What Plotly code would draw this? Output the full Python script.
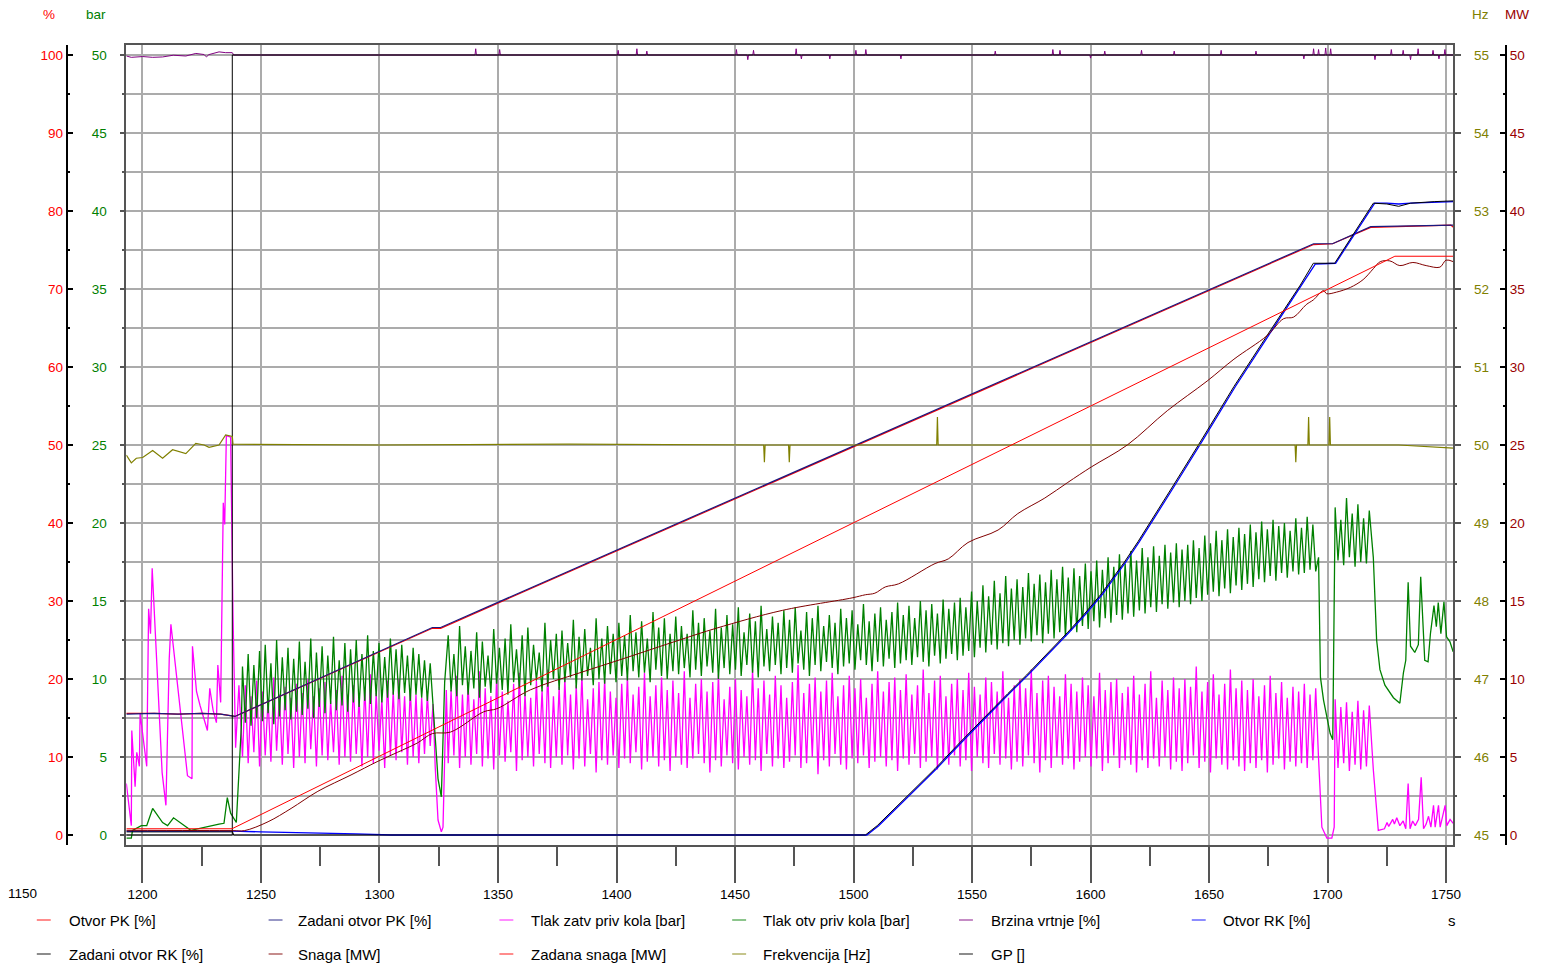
import numpy as np
import plotly.graph_objects as go

FONT = "Liberation Sans, Arial, sans-serif"
W, H = 1542, 966

# ---------------- data (time in s) ----------------
otvor_pk_t = [1193.2, 1205, 1215, 1225, 1233, 1237.0, 1239.0, 1322.3, 1325.8, 1694.1, 1702.1, 1718.2, 1730, 1745, 1752, 1753.1]
otvor_pk_v = [15.6, 15.6, 15.5, 15.6, 15.5, 15.3, 15.2, 26.5, 26.5, 75.7, 75.8, 77.9, 78.0, 78.1, 78.2, 77.9]
zad_pk_t = [1193.2, 1205, 1215, 1225, 1233, 1237.0, 1239.0, 1322.3, 1325.8, 1694.1, 1702.1, 1718.2, 1730, 1745, 1753.1]
zad_pk_v = [15.5, 15.6, 15.5, 15.6, 15.5, 15.3, 15.2, 26.6, 26.6, 75.8, 75.8, 78.0, 78.1, 78.2, 78.2]

# pressures [bar]: irregular segments + oscillating segments sampled every SAMPLE_STEP s
SAMPLE_STEP = 1.2
green_pre_t = [1193.2, 1195.3, 1195.8, 1199.5, 1201.8, 1204.3, 1208.5, 1210.6, 1213.1, 1220.4, 1232.3, 1234.4, 1235.8, 1237.2, 1239.6, 1241.0, 1241.7]
green_pre_v = [-0.2, -0.2, 0.3, 0.6, 0.6, 1.7, 0.8, 0.6, 1.1, 0.3, 0.7, 0.75, 2.4, 1.4, 0.8, 4.8, 6.9]
green_A_start = 1242.2
green_A = [10.8, 7.2, 11.6, 7.0, 10.9, 7.5, 11.8, 7.3, 12.2, 7.8, 11.0, 7.1, 12.5, 7.6, 11.4, 8.0, 12.0, 7.4, 11.3, 7.9,
           12.4, 7.7, 11.1, 8.1, 12.6, 7.5, 11.7, 8.2, 12.1, 7.8, 11.5, 8.4, 12.7, 8.0, 11.2, 8.3, 12.3, 7.9, 11.9, 8.5,
           12.5, 8.2, 11.6, 8.6, 12.8, 8.4, 11.8, 8.9, 12.3, 8.5, 11.4, 8.8, 12.6, 9.0, 11.9, 8.7, 12.2, 9.1, 11.5, 8.6,
           12.0, 9.0, 11.6, 8.8, 11.2]
green_dip_t = [1320.2, 1321.4, 1322.6, 1323.5, 1324.7, 1326.1, 1326.8, 1327.5]
green_dip_v = [8.6, 11.0, 8.2, 6.0, 3.6, 2.45, 5.5, 9.8]
green_B_start = 1329.0
green_B = [12.8, 9.2, 11.6, 8.9, 13.4, 9.6, 12.1, 9.0, 11.8, 9.4, 13.0, 8.8, 12.4, 9.5, 11.5, 9.1, 13.2, 9.7, 12.0, 9.3,
           12.6, 9.0, 13.5, 9.8, 11.9, 9.4, 12.8, 8.9, 13.3, 9.6, 12.2, 9.9, 11.7, 9.2, 13.6, 9.5, 12.5, 10.0, 12.9, 9.3,
           13.1, 9.8, 12.3, 10.1, 13.8, 9.4, 12.7, 9.9, 13.2, 10.2, 12.0, 9.6, 13.9, 10.0, 12.6, 9.7, 13.4, 10.3, 12.9, 9.8,
           13.6, 10.2, 12.8, 9.9, 14.1, 10.5, 13.0, 10.1, 13.7, 10.4, 12.6, 9.8, 14.3, 10.6, 13.3, 10.2, 13.9, 10.0, 12.9, 10.5,
           14.0, 10.3, 13.4, 10.7, 12.9, 10.1, 14.4, 10.6, 13.6, 10.2, 13.9, 10.8, 13.1, 10.4, 14.5, 10.0, 13.3, 10.7, 14.1, 10.3,
           13.5, 10.6, 14.6, 10.2, 13.0, 10.9, 14.2, 10.4, 13.7, 10.1, 14.7, 10.8, 13.2, 10.5, 14.0, 10.9, 13.6, 10.3, 14.4, 10.7,
           13.8, 10.4, 14.6, 11.0, 13.1, 10.6, 14.3, 10.2, 13.9, 10.9, 14.7, 10.5, 13.4, 11.1, 14.1, 10.7, 13.6, 10.3, 14.5, 10.8,
           13.9, 11.0, 14.4, 10.6, 13.5, 11.2, 14.8, 10.9, 13.7, 10.5, 14.2, 11.1, 14.6, 10.8, 13.8, 11.3, 14.3, 10.7, 14.9, 11.0,
           14.1, 11.2, 14.7, 10.9, 13.9, 11.4, 15.0, 11.1, 14.4, 10.8, 14.8, 11.5, 14.2, 11.0, 15.1, 11.3, 14.5, 11.6, 14.9, 11.2,
           15.2, 11.5, 14.6, 11.8, 15.6, 11.4, 15.0, 12.0, 16.0, 11.7, 15.3, 12.2, 16.3, 11.9, 15.5, 12.3, 16.6, 12.1, 15.8, 12.5,
           16.4, 12.2, 15.9, 12.6, 16.8, 12.4, 16.1, 12.8, 16.7, 12.3, 16.2, 12.9, 17.0, 12.6, 16.4, 13.0, 17.2, 12.7, 16.5, 13.1,
           17.1, 13.0, 16.6, 13.4, 17.4, 13.2, 16.9, 13.7, 17.6, 13.3, 17.0, 13.9, 17.8, 13.6, 17.2, 14.1, 18.0, 13.8, 17.4, 14.2,
           18.2, 14.0, 17.6, 14.4, 18.4, 14.2, 17.8, 14.6, 18.5, 14.3, 17.9, 14.8, 18.6, 14.5, 18.1, 14.9, 18.7, 14.6, 18.3, 15.0,
           18.6, 14.8, 18.9, 15.2, 18.4, 15.0, 19.2, 15.4, 18.7, 15.6, 19.5, 15.3, 18.9, 15.8, 19.6, 15.5, 19.1, 16.0, 19.7, 15.7,
           19.3, 16.1, 19.9, 15.9, 19.4, 16.4, 20.1, 16.2, 19.6, 16.6, 20.2, 16.3, 19.8, 16.8, 20.0, 16.5, 19.5, 16.9, 20.3, 16.7,
           19.7, 16.8, 20.4, 17.0, 19.9, 16.9, 17.8]
green_mid_t = [1697.0, 1698.3, 1701.1, 1702.2]
green_mid_v = [10.1, 8.65, 6.5, 6.1]
green_C_start = 1703.2
green_C = [21.0, 17.6, 20.2, 17.3, 21.6, 17.8, 20.6, 17.2, 21.2, 17.5, 20.3, 17.4, 20.8]
green_post_t = [1719.3, 1720.7, 1722.1, 1724.2, 1727.8, 1730.5, 1732.0, 1733.0, 1734.0, 1735.0, 1736.8, 1738.3,
                1739.3, 1741.0, 1742.4, 1743.4, 1744.9, 1745.9, 1746.7, 1747.8, 1749.1, 1750.2, 1751.6, 1753.0]
green_post_v = [17.8, 12.5, 10.6, 9.6, 8.8, 8.45, 10.4, 11.2, 16.2, 12.1, 11.7, 12.2,
                16.55, 11.2, 11.1, 12.9, 14.7, 13.35, 14.9, 12.9, 14.95, 12.7, 12.4, 11.75]

mag_pre_t = [1193.2, 1195.3, 1195.5, 1196.9, 1197.6, 1198.7, 1199.0, 1201.8, 1202.6, 1203.4, 1204.1, 1208.3, 1209.9,
             1210.6, 1211.3, 1212.0, 1219.0, 1220.9, 1221.1, 1222.8, 1224.3, 1227.4, 1228.4, 1229.8, 1231.2, 1231.8,
             1233.0, 1234.1, 1234.7, 1235.4, 1237.2, 1238.2, 1239.3, 1240.7]
mag_pre_v = [3.3, 0.6, 6.7, 3.1, 5.3, 4.4, 7.8, 4.4, 14.5, 12.9, 17.1, 4.0, 1.9,
             6.0, 11.3, 13.5, 3.8, 3.6, 12.1, 9.2, 8.3, 6.7, 9.4, 8.0, 7.2, 10.9,
             8.5, 21.3, 19.9, 25.6, 25.5, 14.1, 5.6, 9.6]
mag_A = [5.0, 9.6, 4.6, 8.9, 5.3, 9.9, 4.4, 9.2, 5.1, 8.7, 4.7, 10.1, 5.4, 9.0, 4.5, 9.5, 5.2, 8.8, 4.3, 9.7,
         5.0, 9.1, 4.6, 10.0, 5.5, 8.9, 4.4, 9.4, 5.1, 9.8, 4.8, 8.6, 5.3, 9.3, 4.5, 10.2, 5.0, 9.0, 4.7, 9.6,
         5.2, 8.8, 4.4, 9.5, 5.0, 10.3, 4.6, 9.1, 5.4, 8.7, 4.3, 9.9, 5.1, 9.2, 4.8, 10.0, 5.3, 8.9, 4.5, 9.4,
         5.0, 9.0, 4.6, 8.8, 5.2]
mag_dip_t = [1320.2, 1321.4, 1322.6, 1323.5, 1324.7, 1326.1, 1326.8, 1327.5, 1328.2]
mag_dip_v = [9.0, 5.7, 8.4, 4.4, 0.96, 0.2, 0.5, 5.7, 9.3]
mag_B = [4.6, 9.3, 5.1, 10.2, 4.3, 9.0, 5.0, 9.8, 4.5, 8.7, 5.2, 10.5, 4.4, 9.4, 4.9, 8.9, 4.2, 10.0, 5.1, 9.2,
         4.7, 8.6, 5.3, 9.7, 4.1, 10.4, 4.8, 9.1, 5.0, 8.8, 4.4, 9.9, 5.2, 9.3, 4.6, 10.6, 4.3, 8.9, 5.0, 9.5,
         4.5, 10.1, 5.1, 9.0, 4.2, 9.6, 4.9, 10.3, 4.4, 8.7, 5.2, 9.4, 4.0, 9.8, 4.8, 10.0, 4.5, 9.2, 5.1, 8.8,
         4.3, 9.7, 4.9, 10.2, 4.6, 9.0, 5.3, 9.5, 4.2, 10.4, 4.7, 8.9, 5.0, 9.6, 4.4, 10.1, 4.8, 9.3, 4.1, 9.9,
         5.0, 9.1, 4.5, 10.5, 4.3, 8.8, 4.9, 9.7, 5.2, 10.0, 4.6, 9.2, 4.0, 9.8, 4.8, 10.3, 4.4, 8.7, 5.1, 9.5,
         4.6, 10.0, 4.2, 9.3, 5.0, 8.9, 4.5, 10.6, 4.8, 9.4, 4.1, 9.9, 5.2, 9.0, 4.4, 10.2, 4.9, 9.6, 4.3, 8.8,
         4.7, 9.8, 5.1, 10.9, 4.3, 9.1, 4.6, 9.7, 5.0, 10.1, 3.9, 9.2, 4.8, 9.9, 4.4, 10.4, 5.2, 8.9, 4.5, 9.6,
         4.2, 10.2, 4.9, 9.4, 4.6, 10.0, 5.1, 8.8, 4.3, 9.7, 4.7, 10.5, 5.0, 9.2, 4.4, 9.8, 4.8, 10.1, 4.1, 9.3,
         4.9, 10.3, 4.5, 9.0, 5.2, 9.6, 4.3, 10.6, 4.7, 9.1, 5.0, 9.9, 4.2, 10.2, 4.8, 8.9, 4.5, 9.7, 5.1, 10.0,
         4.4, 9.3, 4.8, 10.4, 4.1, 9.5, 5.0, 9.0, 4.6, 10.1, 4.3, 9.8, 5.2, 9.2, 4.5, 10.5, 4.9, 8.8, 4.2, 9.6,
         4.7, 10.0, 4.4, 9.4, 5.1, 10.6, 4.6, 9.1, 4.0, 9.9, 4.8, 10.2, 4.3, 9.5, 5.0, 8.9, 4.5, 10.3, 4.9, 9.7,
         4.2, 9.2, 4.7, 10.1, 5.0, 9.6, 4.4, 8.9, 4.9, 10.4, 4.1, 9.3, 4.6, 9.8, 5.1, 10.0, 4.3, 9.1, 4.8, 9.5,
         4.5, 10.2, 4.0, 9.0, 4.8, 9.7, 4.3, 10.5, 4.9, 8.8, 4.4, 9.9, 5.0, 9.3, 4.2, 10.1, 4.7, 9.4, 4.1, 10.0,
         4.6, 9.5, 5.1, 10.8, 4.3, 9.2, 4.7, 9.8, 4.0, 10.3, 4.9, 9.0, 4.5, 9.7, 4.2, 10.6, 4.8, 9.4, 4.4, 9.9,
         4.1, 9.3, 4.6, 10.0, 4.3, 8.9, 4.8, 9.6, 4.0, 10.2, 4.5, 9.1, 4.9, 9.8, 4.2, 8.8, 4.7, 9.5, 4.4, 9.2,
         4.6, 9.7, 4.3, 9.0, 4.8, 9.4, 4.9]
mag_mid_t = [1696.9, 1697.6, 1699.7, 1701.8, 1702.8]
mag_mid_v = [2.7, 0.5, -0.2, -0.2, 0.5]
mag_C = [8.7, 4.3, 8.2, 4.6, 8.5, 4.1, 7.9, 4.5, 8.6, 4.2, 8.0, 4.4, 8.3]
mag_post_t = [1719.3, 1720.7, 1721.4, 1724.0, 1725.1, 1725.8, 1727.5, 1728.2, 1729.2, 1730.5,
              1731.9, 1733.0, 1734.0, 1734.8, 1735.9, 1737.0, 1738.4, 1739.5, 1740.5, 1741.6,
              1742.6, 1743.6, 1744.7, 1745.4, 1746.8, 1747.5, 1749.6, 1750.3, 1751.7, 1753.0]
mag_post_v = [4.2, 1.4, 0.3, 0.4, 0.8, 0.55, 1.0, 0.7, 1.1, 0.6,
              0.9, 0.4, 3.3, 0.4, 0.9, 0.6, 1.0, 3.7, 0.4, 0.7,
              1.2, 0.5, 1.9, 0.5, 1.9, 0.5, 1.9, 0.6, 1.0, 0.75]

brz_base_t = [1193.2, 1195.3, 1200.1, 1204.3, 1208.5, 1213.0, 1218.3, 1222.5, 1226.0, 1227.0, 1228.0, 1232.3, 1235.1, 1237.9, 1238.5, 1753.1]
brz_base_v = [99.87, 99.7, 99.8, 99.7, 99.75, 99.97, 99.87, 100.2, 100.06, 99.75, 100.05, 100.4, 100.3, 100.3, 100.0, 100.0]
brz_spike_t = [1340.6, 1350.7, 1400.7, 1408.6, 1412.8, 1450.6, 1457.8, 1475.8, 1501.0, 1505.2, 1559.8, 1584.1, 1587.1,
               1606.0, 1621.5, 1635.3, 1655.1, 1669.8, 1694.1, 1696.2, 1699.2, 1701.3, 1726.9, 1731.9, 1738.2, 1744.5, 1749.5,
               1455.4, 1478.0, 1490.0, 1520.0, 1600.0, 1690.0, 1720.0, 1735.0, 1747.0]
brz_spike_v = [100.8, 100.7, 100.6, 100.8, 100.5, 100.7, 100.6, 100.8, 100.6, 100.7, 100.5, 100.7, 100.6,
               100.5, 100.6, 100.5, 100.6, 100.5, 100.8, 100.7, 100.9, 100.8, 100.7, 100.6, 100.8, 100.6, 100.7,
               99.4, 99.5, 99.5, 99.5, 99.6, 99.5, 99.4, 99.4, 99.5]

zad_rk_t = [1193.2, 1238.0, 1238.5, 1505.0, 1510.0, 1520.0, 1534.4, 1545.0, 1555.5, 1565.0, 1573.0, 1582.0, 1590.4,
            1597.0, 1604.5, 1609.0, 1614.3, 1620.0, 1625.5, 1635.3, 1646.5, 1660.5, 1674.4, 1688.5, 1694.0,
            1703.0, 1719.3, 1725.0, 1730.0, 1735.0, 1745.0, 1753.1]
zad_rk_v = [0.4, 0.4, 0.0, 0.0, 1.2, 4.2, 8.5, 11.9, 15.2, 18.1, 20.5, 23.3, 26.0,
            28.2, 30.9, 32.8, 35.0, 37.6, 40.2, 45.0, 50.5, 57.5, 64.0, 70.5, 73.3,
            73.3, 81.0, 80.9, 80.6, 81.0, 81.2, 81.3]
otvor_rk_t = [1193.2, 1238.0, 1250.0, 1270.0, 1290.0, 1305.0, 1505.6, 1510.6, 1520.6, 1535.0, 1545.6, 1556.1, 1565.6,
              1573.6, 1582.6, 1591.0, 1597.6, 1605.1, 1609.6, 1614.9, 1620.6, 1626.1, 1635.9, 1647.1, 1661.1,
              1675.0, 1689.1, 1694.8, 1703.4, 1719.9, 1725.0, 1730.0, 1735.0, 1745.0, 1753.1]
otvor_rk_v = [0.5, 0.5, 0.4, 0.3, 0.15, 0.0, 0.0, 1.2, 4.2, 8.5, 11.9, 15.2, 18.1,
              20.5, 23.3, 26.0, 28.2, 30.9, 32.8, 35.0, 37.6, 40.2, 45.0, 50.5, 57.5,
              64.0, 70.5, 73.2, 73.3, 81.0, 81.0, 80.9, 81.0, 81.1, 81.2]

snaga_t = [1193.2, 1238.0, 1243.0, 1253.0, 1262.7, 1274.0, 1288.0, 1299.0, 1307.6, 1316.0,
           1322.3, 1330.0, 1344.0, 1349.6, 1363.6, 1384.6, 1402.8, 1426.6, 1442.0, 1470.0,
           1499.4, 1505.0, 1509.0, 1513.4, 1519.0, 1534.4, 1540.0, 1548.3, 1561.0, 1569.3,
           1580.7, 1590.4, 1600.4, 1615.5, 1632.4, 1649.2, 1660.5, 1674.4, 1681.5, 1685.7,
           1691.0, 1694.0, 1698.3, 1699.6, 1703.8, 1709.6, 1715.0, 1719.3, 1722.2, 1726.3,
           1730.5, 1736.0, 1741.6, 1747.4, 1750.0, 1753.1]
snaga_v = [0.3, 0.28, 0.28, 0.85, 1.7, 2.8, 3.85, 4.7, 5.3, 5.9,
           6.5, 6.6, 7.9, 8.1, 9.3, 10.4, 11.3, 12.5, 13.25, 14.4,
           15.2, 15.4, 15.5, 15.9, 16.1, 17.4, 17.7, 18.75, 19.55, 20.6,
           21.6, 22.6, 23.6, 25.0, 27.2, 29.1, 30.5, 32.0, 33.1, 33.2,
           34.0, 34.3, 34.9, 34.7, 34.8, 35.1, 35.6, 36.3, 36.75, 36.8,
           36.5, 36.7, 36.5, 36.4, 36.85, 36.75]
zad_snaga_t = [1193.2, 1237.8, 1728.4, 1753.1]
zad_snaga_v = [0.4, 0.4, 37.1, 37.1]

freq_t = [1193.2, 1195.3, 1197.4, 1200.1, 1204.3, 1208.5, 1212.7, 1218.3, 1222.5, 1226.0,
          1228.1, 1232.3, 1235.1, 1237.9, 1238.2, 1300, 1380, 1462.1, 1462.4, 1462.7,
          1472.6, 1472.9, 1473.2, 1535.1, 1535.4, 1535.7, 1600, 1686.3, 1686.6, 1686.9,
          1691.7, 1692.0, 1692.3, 1700.6, 1700.9, 1701.2, 1730, 1753.1]
freq_v = [49.87, 49.77, 49.83, 49.84, 49.93, 49.83, 49.94, 49.89, 50.02, 50.0,
          49.97, 50.0, 50.13, 50.11, 50.01, 50.0, 50.01, 50.0, 49.78, 50.0,
          50.0, 49.78, 50.0, 50.0, 50.36, 50.0, 50.0, 50.0, 49.78, 50.0,
          50.0, 50.36, 50.0, 50.0, 50.36, 50.0, 50.0, 49.96]

gp_t = [1193.2, 1237.9, 1237.9, 1753.1]
gp_v = [0, 0, 100, 100]

x_ticks_extra = "1150"

# ---------------- assemble series ----------------
def grid(start, vals):
    return list(start + SAMPLE_STEP * np.arange(len(vals)))

green_t = green_pre_t + grid(green_A_start, green_A) + green_dip_t + grid(green_B_start, green_B) + green_mid_t + grid(green_C_start, green_C) + green_post_t
green_v = green_pre_v + green_A + green_dip_v + green_B + green_mid_v + green_C + green_post_v
mag_t = mag_pre_t + grid(green_A_start, mag_A) + mag_dip_t + grid(green_B_start, mag_B) + mag_mid_t + grid(green_C_start, mag_C) + mag_post_t
mag_v = mag_pre_v + mag_A + mag_dip_v + mag_B + mag_mid_v + mag_C + mag_post_v

brz_pts = list(zip(brz_base_t, brz_base_v))
for ts, vs in zip(brz_spike_t, brz_spike_v):
    brz_pts += [(ts - 0.3, 100.0), (ts, vs), (ts + 0.3, 100.0)]
brz_pts.sort()
brz_t = [p[0] for p in brz_pts]
brz_v = [p[1] for p in brz_pts]

fig = go.Figure()

def add(t, v, color, yax, width=1.0, shape="linear"):
    fig.add_trace(go.Scatter(x=t, y=v, mode="lines", yaxis=yax, hoverinfo="skip",
                             line=dict(color=color, width=width, shape=shape), showlegend=False))

# bar axis (base)
add(mag_t, mag_v, "#FF00FF", "y", 1.3)
add(green_t, green_v, "#008000", "y", 1.3)
# % axis
add(otvor_pk_t, otvor_pk_v, "#FF0000", "y2", 1.2)
add(zad_pk_t, zad_pk_v, "#1a1a80", "y2", 1.2)
add(brz_t, brz_v, "#800080", "y2", 1.0)
add(otvor_rk_t, otvor_rk_v, "#0000FF", "y2", 1.3)
add(zad_rk_t, zad_rk_v, "#000000", "y2", 1.0)
add(gp_t, gp_v, "#000000", "y2", 1.0)
# Hz axis
add(freq_t, freq_v, "#808000", "y3", 1.2)
# MW axis
add(snaga_t, snaga_v, "#800000", "y4", 1.0, "spline")
add(zad_snaga_t, zad_snaga_v, "#FF0000", "y4", 1.0)

GRID = "#ababab"
AX = "#555555"
fig.update_layout(
    width=W, height=H,
    margin=dict(l=0, r=0, t=45, b=121),
    paper_bgcolor="white", plot_bgcolor="white",
    showlegend=False,
    font=dict(family=FONT, size=13, color="black"),
    xaxis=dict(domain=[127 / W, 1461 / W], range=[1193.2, 1753.1],
               tickmode="linear", tick0=1200, dtick=50,
               ticks="outside", ticklen=36, tickwidth=1.5, tickcolor=AX,
               showgrid=True, gridcolor=GRID, gridwidth=1.5,
               showline=True, linecolor=AX, linewidth=1.5, mirror=True, zeroline=False,
               tickfont=dict(size=13.5, color="black"),
               minor=dict(dtick=25, tick0=1200, ticks="outside", ticklen=19, tickwidth=1.5,
                          tickcolor=AX, showgrid=False)),
    yaxis=dict(range=[-0.641, 50.641], tickmode="linear", tick0=0, dtick=5,
               ticks="outside", ticklen=5, tickcolor=AX, tickwidth=1.5,
               showgrid=True, gridcolor=GRID, gridwidth=1.5,
               showline=True, linecolor=AX, linewidth=1.5, mirror=True, zeroline=False,
               tickfont=dict(color="#008000", size=13.5), ticklabelstandoff=10,
               minor=dict(dtick=2.5, tick0=0, ticks="outside", ticklen=3, tickcolor=AX,
                          showgrid=True, gridcolor=GRID, gridwidth=1.5)),
    yaxis2=dict(overlaying="y", anchor="free", position=67 / W, side="left",
                range=[-1.282, 101.282], tickmode="linear", tick0=0, dtick=10,
                ticks="inside", ticklen=5, tickcolor="black", tickwidth=1.5,
                showgrid=False, zeroline=False, showline=True, linecolor="black", linewidth=2,
                tickfont=dict(color="#FF0000", size=13.5),
                minor=dict(dtick=5, tick0=0, ticks="inside", ticklen=2, tickcolor="black")),
    yaxis3=dict(overlaying="y", anchor="x", side="right",
                range=[44.872, 55.128], tickmode="linear", tick0=45, dtick=1,
                ticks="outside", ticklen=7, tickcolor=AX, tickwidth=1.5,
                showgrid=False, zeroline=False, showline=False,
                tickfont=dict(color="#808000", size=13.5), ticklabelstandoff=10,
                minor=dict(dtick=0.5, tick0=45, ticks="outside", ticklen=3, tickcolor=AX)),
    yaxis4=dict(overlaying="y", anchor="free", position=1514 / W, side="right",
                range=[-0.641, 50.641], tickmode="linear", tick0=0, dtick=5,
                ticks="inside", ticklen=5, tickcolor="black", tickwidth=1.5,
                showgrid=False, zeroline=False, showline=True, linecolor="black", linewidth=2,
                tickfont=dict(color="#990000", size=13.5),
                minor=dict(dtick=2.5, tick0=0, ticks="inside", ticklen=2, tickcolor="black")),
)

def py(px):  # paper y from pixel row
    return (845 - px) / 800.0

annotations = []
for txt, xpx, col in [("%", 49.5, "#FF0000"), ("bar", 96.5, "#008000"),
                      ("Hz", 1488, "#808000"), ("MW", 1524.5, "#990000")]:
    annotations.append(dict(text=txt, x=xpx / W, y=py(15), xref="paper", yref="paper",
                            xanchor="center", yanchor="middle", showarrow=False,
                            font=dict(family=FONT, size=13.5, color=col)))
annotations.append(dict(text=x_ticks_extra, x=39 / W, y=py(893), xref="paper", yref="paper",
                        xanchor="right", yanchor="middle", showarrow=False,
                        font=dict(family=FONT, size=13.5, color="black")))
annotations.append(dict(text="s", x=1460 / W, y=py(920), xref="paper", yref="paper",
                        xanchor="center", yanchor="middle", showarrow=False,
                        font=dict(family=FONT, size=15, color="black")))

legend_items = [
    ("Otvor PK [%]", "#FF0000", 37, 67, 920),
    ("Zadani otvor PK [%]", "#1a1a80", 270, 298, 920),
    ("Tlak zatv priv kola [bar]", "#FF00FF", 502, 532, 920),
    ("Tlak otv priv kola [bar]", "#008000", 736, 765, 920),
    ("Brzina vrtnje [%]", "#800080", 964, 994, 920),
    ("Otvor RK [%]", "#0000FF", 1198, 1227, 920),
    ("Zadani otvor RK [%]", "#000000", 37, 67, 954),
    ("Snaga [MW]", "#800000", 270, 298, 954),
    ("Zadana snaga [MW]", "#FF0000", 502, 532, 954),
    ("Frekvencija [Hz]", "#808000", 736, 765, 954),
    ("GP []", "#000000", 964, 994, 954),
]
shapes = []
for name, col, sx, tx, ypx in legend_items:
    shapes.append(dict(type="line", xref="paper", yref="paper",
                       x0=sx / W, x1=(sx + 14) / W, y0=py(ypx), y1=py(ypx),
                       line=dict(color=col, width=1.5), opacity=0.6))
    annotations.append(dict(text=name, x=tx / W, y=py(ypx), xref="paper", yref="paper",
                            xanchor="left", yanchor="middle", showarrow=False,
                            font=dict(family=FONT, size=15, color="black")))

fig.update_layout(annotations=annotations, shapes=shapes)
fig.write_html("out.html")
